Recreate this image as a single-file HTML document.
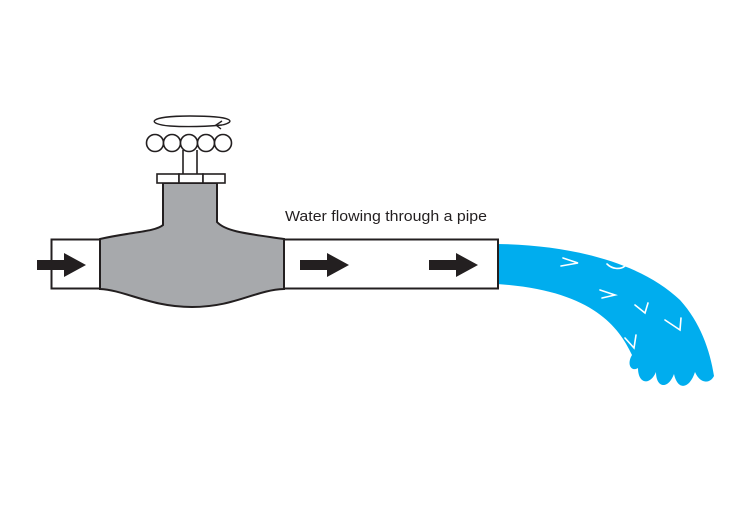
<!DOCTYPE html>
<html><head><style>body{margin:0;background:#fff}</style></head><body>
<svg width="750" height="500" viewBox="0 0 750 500" xmlns="http://www.w3.org/2000/svg">
<rect width="750" height="500" fill="#fff"/>
<!-- water -->
<path d="M497 244 C570 245 640 262 680 300 C700 322 710 350 714 376 C710 384 700 384 695 372 C690 388 678 392 674 374 C668 390 656 388 656 372 C650 386 638 384 638 368 C632 372 626 365 632 355 C618 325 590 290 497 284 Z" fill="#00adee"/>
<g stroke="#fff" stroke-width="1.6" fill="none" stroke-linecap="round">
<path d="M563 258 L578 263 L561 266"/><path d="M607 264 C612 269 620 270 625 266"/>
<path d="M600 290 L615 295 L602 298"/><path d="M635 305 L645 313 L648 303"/>
<path d="M665 320 L680 330 L681 318"/><path d="M625 338 L634 348 L636 335"/>
</g>
<!-- pipes -->
<rect x="51.5" y="239.5" width="50" height="49" fill="#fff" stroke="#231f20" stroke-width="2"/>
<rect x="283" y="239.5" width="215" height="49" fill="#fff" stroke="#231f20" stroke-width="2"/>
<!-- valve body -->
<path d="M100 239 C130 232 155 232 163 225 L163 183 L217 183 L217 222 C226 232 250 234 284 239 L284 289 C255 290 235 307 192 307 C150 307 125 290 100 289 Z" fill="#a7a9ac" stroke="#231f20" stroke-width="2"/>
<!-- flange -->
<g fill="#fff" stroke="#231f20" stroke-width="1.6">
<rect x="157" y="174" width="22" height="9"/><rect x="179" y="174" width="24" height="9"/><rect x="203" y="174" width="22" height="9"/>
<line x1="183" y1="150" x2="183" y2="174"/><line x1="197" y1="150" x2="197" y2="174"/>
<circle cx="155" cy="143" r="8.5"/><circle cx="172" cy="143" r="8.5"/><circle cx="189" cy="143" r="8.5"/><circle cx="206" cy="143" r="8.5"/><circle cx="223" cy="143" r="8.5"/>
</g>
<path d="M222 125 C236 122 235 116 190 116 C147 116 146 124 170 126 C185 127 200 127 222 125" fill="none" stroke="#231f20" stroke-width="1.4"/>
<path d="M222 121 L216 125 L221 129" fill="none" stroke="#231f20" stroke-width="1.4"/>
<!-- arrows -->
<g fill="#231f20">
<path d="M37 260 L64 260 L64 253 L86 265 L64 277 L64 270 L37 270 Z"/>
<path d="M300 260 L327 260 L327 253 L349 265 L327 277 L327 270 L300 270 Z"/>
<path d="M429 260 L456 260 L456 253 L478 265 L456 277 L456 270 L429 270 Z"/>
</g>
<text x="285" y="221" font-family="Liberation Sans, sans-serif" font-size="15" fill="#231f20" textLength="202" lengthAdjust="spacingAndGlyphs">Water flowing through a pipe</text>
</svg>
</body></html>
